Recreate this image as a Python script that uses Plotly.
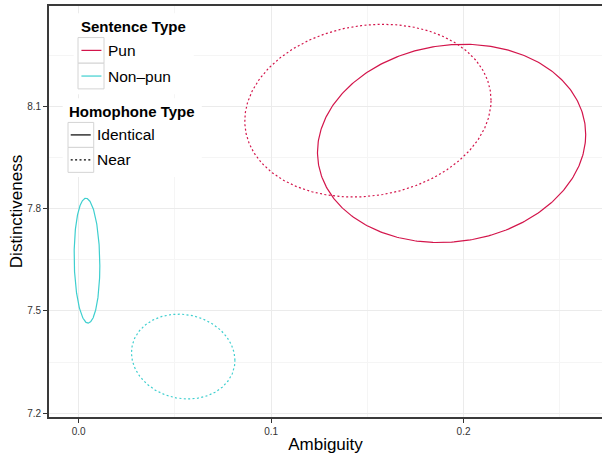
import numpy as np
import plotly.graph_objects as go

# ---- data: fitted ellipse parameters (center, spread, correlation) ----
sentence_type = ["Pun", "Pun", "Non\u2013pun", "Non\u2013pun"]
homophone_type = ["Identical", "Near", "Identical", "Near"]
center_ambiguity = [0.1938, 0.1503, 0.0043, 0.0543]
center_distinct = [7.9928, 8.0891, 7.6479, 7.3660]
radius_ambiguity = [0.0697, 0.0640, 0.00668, 0.0269]
radius_distinct = [0.2915, 0.2540, 0.1835, 0.1248]
correlation = [0.09, 0.12, -0.08, -0.09]

x_ticks = [0.0, 0.1, 0.2]
x_tick_labels = ["0.0", "0.1", "0.2"]
y_ticks = [7.2, 7.5, 7.8, 8.1]
y_tick_labels = ["7.2", "7.5", "7.8", "8.1"]

RED = "#D3154B"
CYAN = "#3ECFCF"
colors = {"Pun": RED, "Non\u2013pun": CYAN}
dashes = {"Identical": "solid", "Near": "2px,2.4px"}

W, H = 602, 456
L, R, T, B = 49.3, 602, 5.7, 417.3

fig = go.Figure()
t = np.linspace(0, 2 * np.pi, 361)
for s, h, cx, cy, rx, ry, rho in zip(sentence_type, homophone_type, center_ambiguity,
                                     center_distinct, radius_ambiguity, radius_distinct,
                                     correlation):
    xs = cx + rx * np.cos(t)
    ys = cy + ry * (rho * np.cos(t) + np.sqrt(1 - rho ** 2) * np.sin(t))
    fig.add_trace(go.Scatter(x=xs, y=ys, mode="lines", name=f"{s} / {h}",
                             line=dict(color=colors[s], width=1.2, dash=dashes[h]),
                             showlegend=False, hoverinfo="skip"))


def px(x):
    return (x - L) / (R - L)


def py(y):
    return (B - y) / (B - T)


shapes = []
annotations = []
FONT = "Liberation Sans, Arial, sans-serif"


def legend(bg, title, title_xy, box_x, box_tops, box_h, line_x, items, label_x):
    shapes.append(dict(type="rect", xref="paper", yref="paper", layer="above",
                       x0=px(bg[0]), x1=px(bg[1]), y0=py(bg[3]), y1=py(bg[2]),
                       fillcolor="white", line=dict(width=0)))
    annotations.append(dict(text=f"<b>{title}</b>", xref="paper", yref="paper",
                            x=px(title_xy[0]), y=py(title_xy[1]), xanchor="left",
                            yanchor="middle", showarrow=False,
                            font=dict(family=FONT, size=15, color="black")))
    for top, (label, color, dash) in zip(box_tops, items):
        shapes.append(dict(type="rect", xref="paper", yref="paper", layer="above",
                           x0=px(box_x[0]), x1=px(box_x[1]), y0=py(top + box_h), y1=py(top),
                           fillcolor="white", line=dict(color="#D4D4D4", width=1)))
        ymid = top + box_h / 2
        shapes.append(dict(type="line", xref="paper", yref="paper", layer="above",
                           x0=px(line_x[0]), x1=px(line_x[1]), y0=py(ymid), y1=py(ymid),
                           line=dict(color=color, width=1.2, dash=dash)))
        annotations.append(dict(text=label, xref="paper", yref="paper",
                                x=px(label_x), y=py(ymid), xanchor="left",
                                yanchor="middle", showarrow=False,
                                font=dict(family=FONT, size=15.5, color="black")))


legend(bg=(74, 194, 13, 94), title="Sentence Type", title_xy=(79, 26),
       box_x=(78.3, 104.3), box_tops=(37.3, 63.0), box_h=25.7, line_x=(81.7, 101.7),
       items=[("Pun", RED, "solid"), ("Non\u2013pun", CYAN, "solid")], label_x=106)
legend(bg=(63, 202, 98, 177), title="Homophone Type", title_xy=(67.5, 111),
       box_x=(68.3, 94), box_tops=(122.3, 147.3), box_h=25, line_x=(71, 91),
       items=[("Identical", "black", "solid"), ("Near", "black", "2px,2.4px")], label_x=95)

fig.update_layout(
    width=W, height=H,
    margin=dict(l=L, r=0, t=T, b=H - B, pad=0),
    plot_bgcolor="white", paper_bgcolor="white",
    font=dict(family=FONT),
    shapes=shapes, annotations=annotations,
    showlegend=False,
)
fig.update_xaxes(
    automargin=False,
    range=[(L - 79) / 1923, (R - 79) / 1923],
    tickvals=x_ticks, ticktext=x_tick_labels,
    showgrid=True, gridcolor="#EBEBEB", gridwidth=1,
    minor=dict(dtick=0.05, tick0=0, showgrid=True, gridcolor="#F5F5F5", gridwidth=1),
    zeroline=False,
    showline=True, linecolor="#3A3A3A", linewidth=1.6, mirror=True,
    ticks="outside", ticklen=4, tickcolor="#333333", tickwidth=1,
    tickfont=dict(family=FONT, size=10, color="#333333"),
    title=dict(text="Ambiguity", font=dict(family=FONT, size=17, color="black"), standoff=2),
)
fig.update_yaxes(
    automargin=False,
    range=[7.2 - (B - 413.3) / 340.6, 8.1 + (106.8 - T) / 340.6],
    tickvals=y_ticks, ticktext=y_tick_labels,
    showgrid=True, gridcolor="#EBEBEB", gridwidth=1,
    minor=dict(dtick=0.15, tick0=7.2, showgrid=True, gridcolor="#F5F5F5", gridwidth=1),
    zeroline=False,
    showline=True, linecolor="#3A3A3A", linewidth=1.6, mirror=False,
    ticks="outside", ticklen=4, tickcolor="#333333", tickwidth=1,
    tickfont=dict(family=FONT, size=10, color="#333333"),
    title=dict(text="Distinctiveness", font=dict(family=FONT, size=17, color="black"), standoff=0),
)

fig.write_html("out.html", config={"displayModeBar": False},
               post_script="document.body.style.margin='0px';")
